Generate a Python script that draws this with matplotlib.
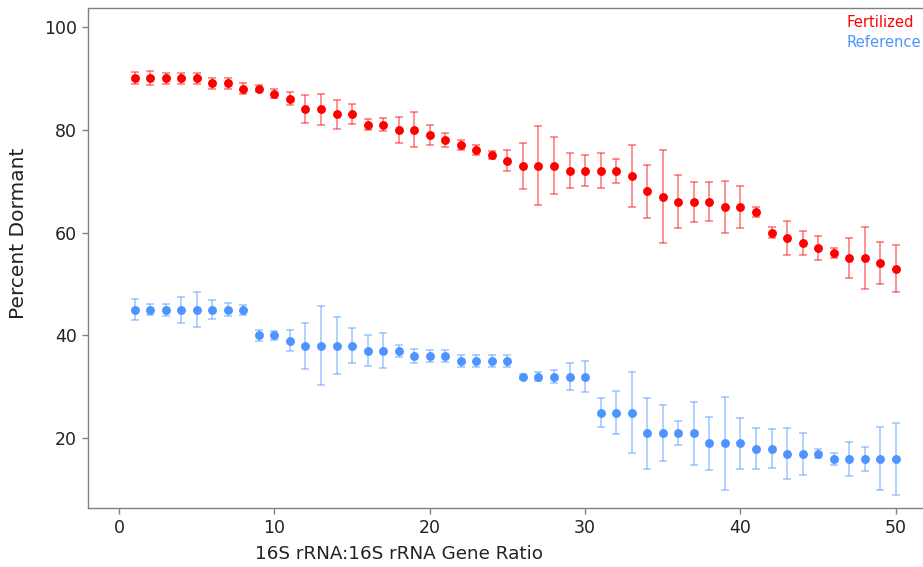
import numpy as np
import matplotlib
matplotlib.use("Agg")
import matplotlib.pyplot as plt

# ratio 1..50
ratio = np.arange(1, 51)

fertilized = [90, 90, 90, 90, 90, 89, 89, 88, 88, 87,
              86, 84, 84, 83, 83, 81, 81, 80, 80, 79,
              78, 77, 76, 75, 74, 73, 73, 73, 72, 72,
              72, 72, 71, 68, 67, 66, 66, 66, 65, 65,
              64, 60, 59, 58, 57, 56, 55, 55, 54, 53]
fertilized_err = [1.2, 1.4, 1.1, 1.1, 1.1, 1.1, 1.1, 1.1, 0.7, 0.9,
                  1.3, 2.7, 3.0, 2.8, 1.9, 1.1, 1.2, 2.5, 3.4, 1.9,
                  1.3, 0.9, 1.0, 0.8, 2.0, 4.5, 7.7, 5.6, 3.4, 3.0,
                  3.4, 2.3, 6.1, 5.1, 9.1, 5.1, 3.9, 3.8, 5.0, 4.1,
                  0.9, 1.1, 3.3, 2.3, 2.4, 1.0, 3.9, 6.0, 4.1, 4.6]

reference = [45, 45, 45, 45, 45, 45, 45, 45, 40, 40,
             39, 38, 38, 38, 38, 37, 37, 37, 36, 36,
             36, 35, 35, 35, 35, 32, 32, 32, 32, 32,
             25, 25, 25, 21, 21, 21, 21, 19, 19, 19,
             18, 18, 17, 17, 17, 16, 16, 16, 16, 16]
reference_err = [2.0, 1.1, 1.2, 2.5, 3.4, 1.9, 1.3, 1.0, 1.0, 0.8,
                 2.0, 4.5, 7.7, 5.6, 3.4, 3.0, 3.4, 1.2, 1.3, 1.1,
                 1.1, 1.2, 1.2, 1.2, 1.2, 0.5, 0.8, 1.3, 2.7, 3.0,
                 2.8, 4.1, 7.8, 6.9, 5.5, 2.3, 6.1, 5.1, 9.1, 5.0,
                 4.0, 3.8, 5.0, 4.1, 0.9, 1.1, 3.3, 2.3, 6.1, 7.0]

red = "#FF0000"
blue = "#4D94FF"

fig = plt.figure(figsize=(9.23, 5.67), dpi=100)
ax = fig.add_axes([0.0953, 0.1041, 0.9047, 0.8813])

for y, err, col in [(fertilized, fertilized_err, red), (reference, reference_err, blue)]:
    rgb = matplotlib.colors.to_rgb(col)
    eb = ax.errorbar(ratio, y, yerr=err, fmt="o", color=col, markersize=6.4,
                     ecolor=(*rgb, 0.5), elinewidth=1.2,
                     capsize=3.0, capthick=1.2, zorder=3)
    eb[0].set_markeredgewidth(0)

ax.set_xlim(-2.0, 51.75)
ax.set_ylim(6.45, 103.6)
ax.set_xticks([0, 10, 20, 30, 40, 50])
ax.set_yticks([20, 40, 60, 80, 100])

for side in ["left", "bottom", "top"]:
    ax.spines[side].set_color("#808080")
    ax.spines[side].set_linewidth(1.0)
ax.spines["right"].set_visible(False)
ax.tick_params(colors="#808080", labelcolor="#222222", labelsize=12.5,
               length=4, width=1.0, pad=4)

ax.set_xlabel("16S rRNA:16S rRNA Gene Ratio", size=13.2, color="#222222")
ax.set_ylabel("Percent Dormant", size=14.5, color="#222222")
ax.xaxis.set_label_coords(0.372, -0.075)
ax.yaxis.set_label_coords(-0.072, 0.55)

fig.text(847 / 923, 1 - 27 / 567, "Fertilized", color=red, size=10.6, va="baseline")
fig.text(847 / 923, 1 - 47 / 567, "Reference", color=blue, size=10.6, va="baseline")

plt.savefig("out.png", dpi=100)
